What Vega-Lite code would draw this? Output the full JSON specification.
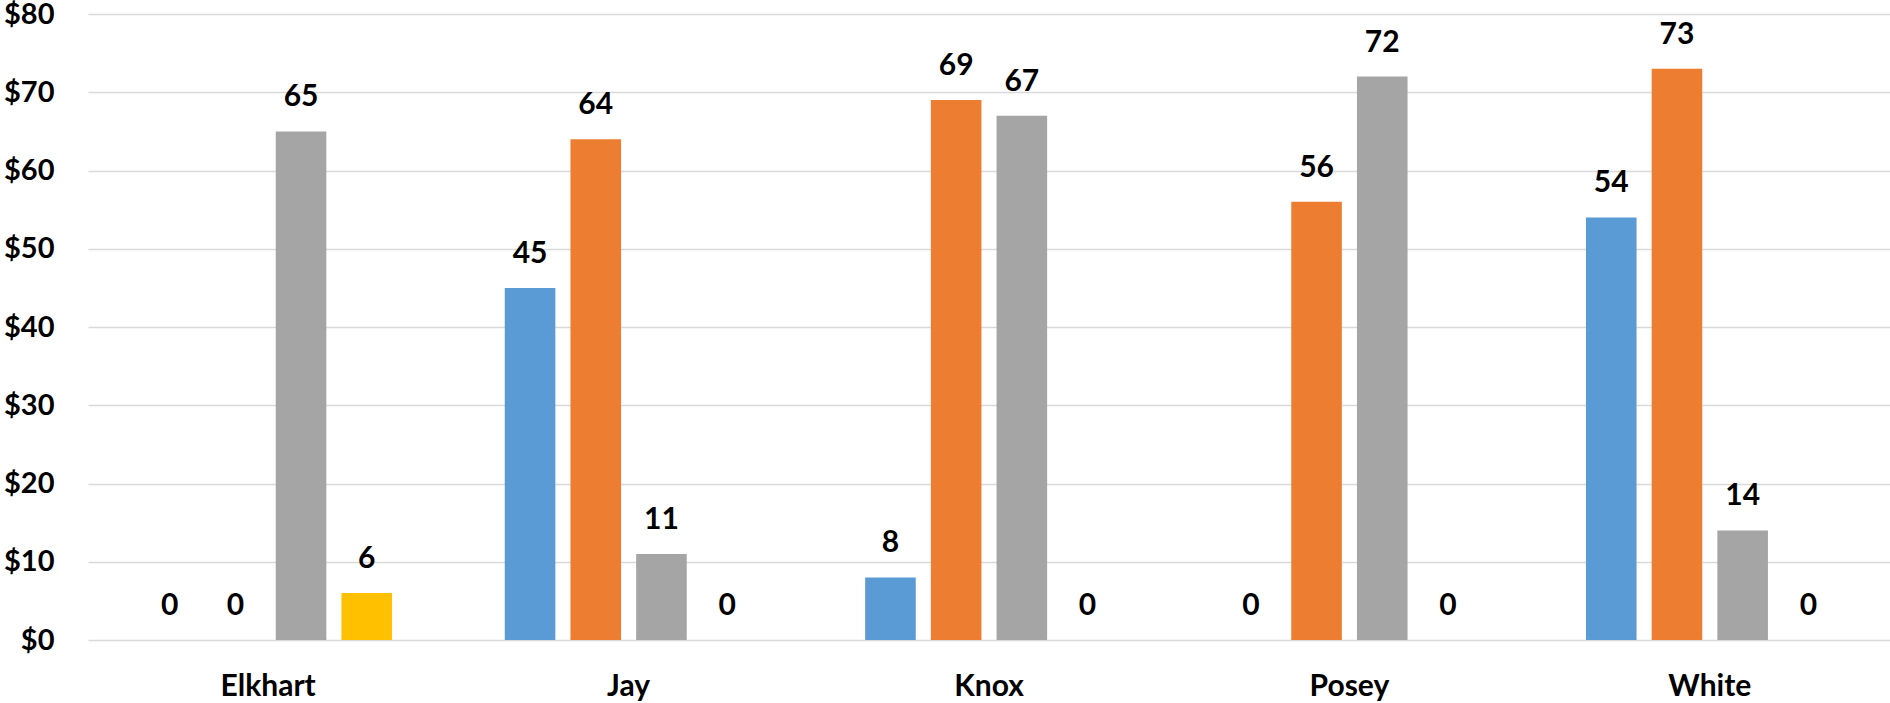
{
  "$schema": "https://vega.github.io/schema/vega-lite/v6.json",
  "autosize": {"type": "none"},
  "width": 1802,
  "height": 626,
  "padding": {"left": 88, "top": 14, "right": 0, "bottom": 63},
  "background": "white",
  "config": {
    "view": {"stroke": null},
    "font": "Lato"
  },
  "data": {
    "values": [
      {"county": "Elkhart", "series": "Series 1", "value": 0},
      {"county": "Elkhart", "series": "Series 2", "value": 0},
      {"county": "Elkhart", "series": "Series 3", "value": 65},
      {"county": "Elkhart", "series": "Series 4", "value": 6},
      {"county": "Jay", "series": "Series 1", "value": 45},
      {"county": "Jay", "series": "Series 2", "value": 64},
      {"county": "Jay", "series": "Series 3", "value": 11},
      {"county": "Jay", "series": "Series 4", "value": 0},
      {"county": "Knox", "series": "Series 1", "value": 8},
      {"county": "Knox", "series": "Series 2", "value": 69},
      {"county": "Knox", "series": "Series 3", "value": 67},
      {"county": "Knox", "series": "Series 4", "value": 0},
      {"county": "Posey", "series": "Series 1", "value": 0},
      {"county": "Posey", "series": "Series 2", "value": 56},
      {"county": "Posey", "series": "Series 3", "value": 72},
      {"county": "Posey", "series": "Series 4", "value": 0},
      {"county": "White", "series": "Series 1", "value": 54},
      {"county": "White", "series": "Series 2", "value": 73},
      {"county": "White", "series": "Series 3", "value": 14},
      {"county": "White", "series": "Series 4", "value": 0}
    ]
  },
  "encoding": {
    "x": {
      "field": "county",
      "type": "nominal",
      "sort": null,
      "scale": {"paddingInner": 0, "paddingOuter": 0},
      "axis": {
        "title": null,
        "labelAngle": 0,
        "labelFont": "Lato",
        "labelFontWeight": "bold",
        "labelFontSize": 30,
        "labelColor": "#000000",
        "labelPadding": 31,
        "domain": false,
        "ticks": false,
        "grid": false
      }
    },
    "xOffset": {
      "field": "series",
      "type": "nominal",
      "scale": {"paddingInner": 0.23, "paddingOuter": 0.858}
    },
    "y": {
      "field": "value",
      "type": "quantitative",
      "scale": {"domain": [0, 80], "nice": false},
      "axis": {
        "title": null,
        "values": [0, 10, 20, 30, 40, 50, 60, 70, 80],
        "format": "$,.0f",
        "labelFont": "Lato",
        "labelFontWeight": "bold",
        "labelFontSize": 29,
        "labelColor": "#000000",
        "labelPadding": 34,
        "domain": false,
        "ticks": false,
        "grid": true,
        "gridColor": "#D9D9D9",
        "gridWidth": 1.5
      }
    }
  },
  "layer": [
    {
      "mark": {"type": "bar"},
      "encoding": {
        "color": {
          "field": "series",
          "type": "nominal",
          "scale": {"range": ["#5B9BD5", "#ED7D31", "#A5A5A5", "#FFC000"]},
          "legend": null
        }
      }
    },
    {
      "mark": {
        "type": "text",
        "baseline": "alphabetic",
        "dy": -25,
        "font": "Lato",
        "fontWeight": "bold",
        "fontSize": 30,
        "color": "#000000"
      },
      "encoding": {
        "text": {"field": "value", "type": "quantitative", "format": ".0f"}
      }
    }
  ]
}
